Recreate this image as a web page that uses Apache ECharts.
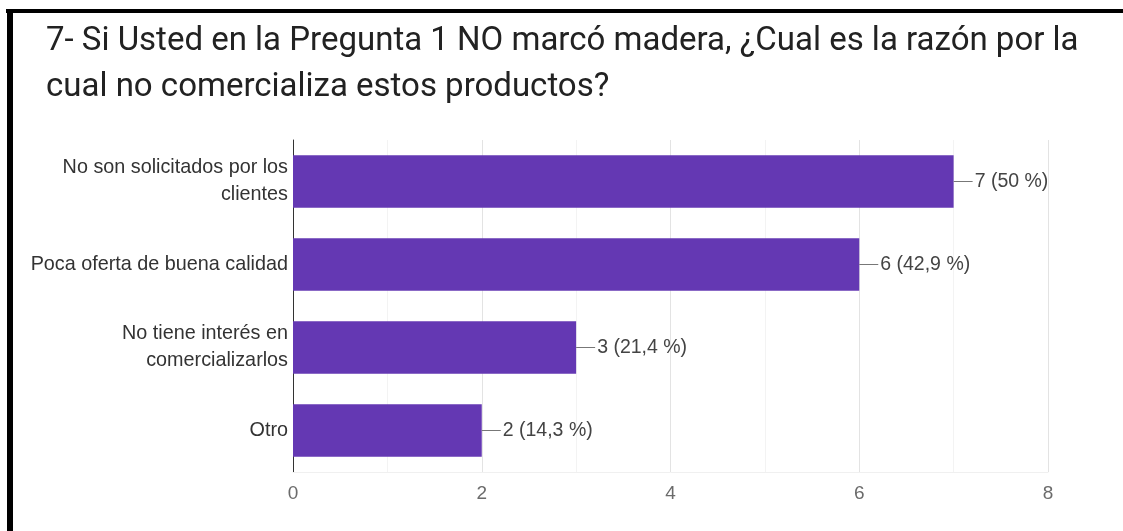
<!DOCTYPE html>
<html>
<head>
<meta charset="utf-8">
<script src="https://cdn.jsdelivr.net/npm/echarts@6/dist/echarts.min.js"></script>
<style>
  html, body { margin: 0; padding: 0; background: #ffffff; }
  #chart { width: 1123px; height: 531px; }
</style>
</head>
<body>
<div id="chart"></div>
<script>
// Survey question 7: reasons for not selling wood products
const titleLines = [
  '7- Si Usted en la Pregunta 1 NO marcó madera, ¿Cual es la razón por la',
  'cual no comercializa estos productos?'
];
const categories = [
  'No son solicitados por los\nclientes',
  'Poca oferta de buena calidad',
  'No tiene interés en\ncomercializarlos',
  'Otro'
];
const counts = [7, 6, 3, 2];
const percents = ['50', '42,9', '21,4', '14,3'];
const xTicks = [0, 2, 4, 6, 8];

const chart = echarts.init(document.getElementById('chart'), null, { renderer: 'canvas' });

chart.setOption({
  backgroundColor: '#ffffff',
  animation: false,
  title: {
    text: titleLines.join('\n'),
    left: 41,
    top: 14,
    textStyle: {
      fontFamily: 'Roboto',
      fontSize: 33,
      fontWeight: 'normal',
      lineHeight: 46,
      color: '#222222'
    }
  },
  graphic: [
    { type: 'rect', shape: { x: 6, y: 9, width: 1117, height: 4 }, style: { fill: '#000000' } },
    { type: 'rect', shape: { x: 7, y: 9, width: 6, height: 522 }, style: { fill: '#000000' } }
  ],
  grid: { left: 293, right: 75, top: 140, bottom: 59, containLabel: false },
  xAxis: {
    type: 'value',
    min: xTicks[0],
    max: xTicks[xTicks.length - 1],
    interval: 2,
    axisLine: { show: true, lineStyle: { color: '#f0f0f0', width: 1 } },
    axisTick: { show: false },
    axisLabel: {
      margin: 12,
      fontFamily: 'Arial',
      fontSize: 19,
      color: '#6b6b6b'
    },
    splitLine: { show: true, lineStyle: { color: '#e3e3e3', width: 1 } },
    minorTick: { show: false, splitNumber: 2 },
    minorSplitLine: { show: true, lineStyle: { color: '#f3f3f3', width: 1 } }
  },
  yAxis: {
    type: 'category',
    data: categories,
    inverse: true,
    axisLine: { show: true, onZero: false, lineStyle: { color: '#333333', width: 1 } },
    axisTick: { show: false },
    splitLine: { show: false },
    axisLabel: {
      margin: 5,
      fontFamily: 'Arial',
      fontSize: 19.8,
      lineHeight: 27,
      color: '#333333',
      align: 'right'
    }
  },
  series: [{
    type: 'bar',
    data: counts,
    barCategoryGap: '37%',
    itemStyle: { color: '#6438b3' },
    label: {
      show: true,
      position: 'right',
      distance: 0,
      formatter: function (p) {
        return '{lead|}{val|' + counts[p.dataIndex] + ' (' + percents[p.dataIndex] + ' %)}';
      },
      rich: {
        lead: { width: 19, height: 1, backgroundColor: '#777777' },
        val: {
          fontFamily: 'Arial',
          fontSize: 19.5,
          color: '#444444',
          padding: [0, 0, 0, 2]
        }
      }
    }
  }]
});
</script>
</body>
</html>
